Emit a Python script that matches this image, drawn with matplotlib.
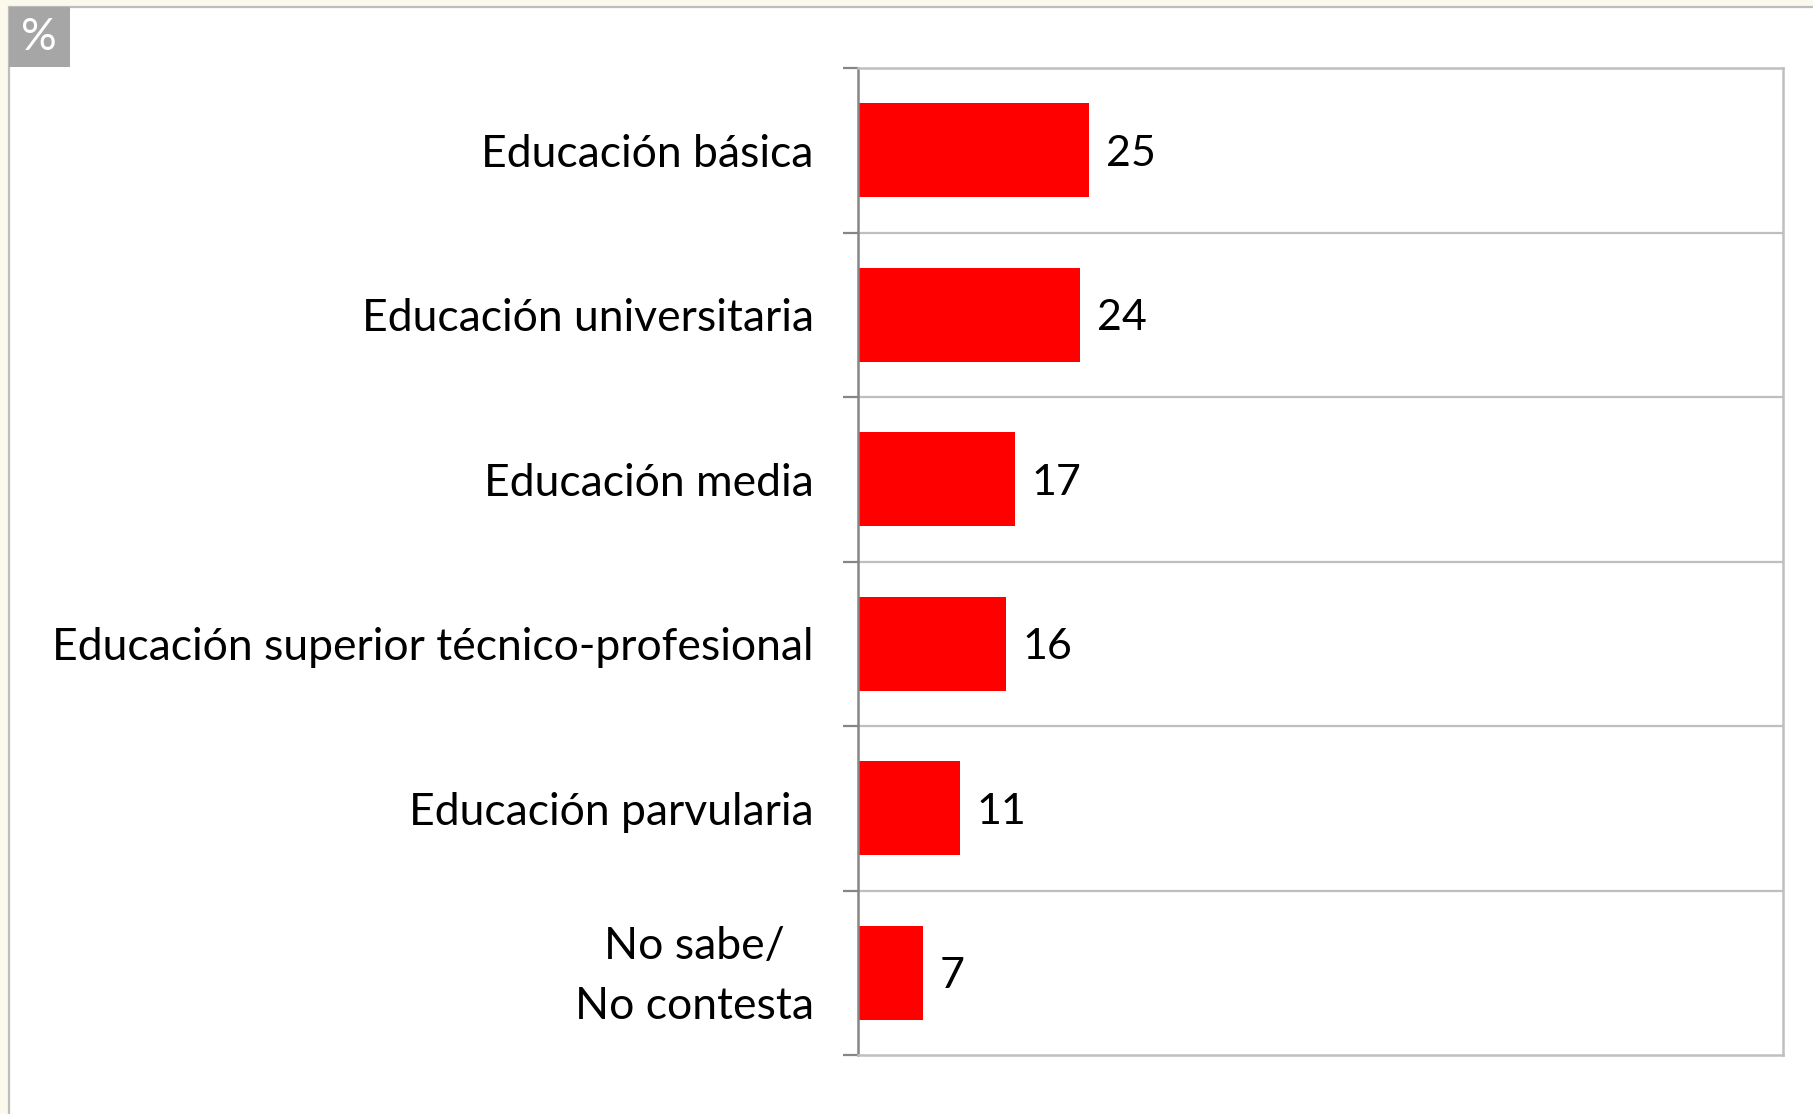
import matplotlib.pyplot as plt
import matplotlib.transforms as mtransforms
from matplotlib.patches import Rectangle

categories = [
    "Educación básica",
    "Educación universitaria",
    "Educación media",
    "Educación superior técnico-profesional",
    "Educación parvularia",
    "No sabe/\nNo contesta",
]
values = [25, 24, 17, 16, 11, 7]

W, H = 1813, 1114
plt.rcParams["font.family"] = ["Lato", "DejaVu Sans"]
fig = plt.figure(figsize=(W / 100, H / 100), dpi=100)
fig.patch.set_facecolor("#FBF8EC")

# white panel with grey border on the left and top
fig.patches.append(Rectangle((9 / W, -0.01), 1, 1.01 - 7 / H, transform=fig.transFigure,
                             facecolor="white", edgecolor="#BDBDBD", lw=1.6, zorder=-2))
# grey "%" box
fig.patches.append(Rectangle((9 / W, 1 - 67 / H), 61 / W, 60 / H, transform=fig.transFigure,
                             facecolor="#A6A6A6", edgecolor="none", zorder=-1))
fig.text(39 / W, 1 - 38 / H, "%", color="white", fontsize=32,
         ha="center", va="center")

ax = fig.add_axes([858 / W, 1 - 1055 / H, 925 / W, 987 / H])
ax.set_zorder(3)
ax.set_facecolor("white")

n = len(categories)
ypos = list(range(n))
ax.barh(ypos, values, height=0.57, color="#FF0000", zorder=2)
ax.set_xlim(0, 100)
ax.set_ylim(n - 0.5, -0.5)

for y, v in zip(ypos, values):
    ax.text(v + 1.8, y + 0.02, str(v), va="center", ha="left", fontsize=31, color="black")

# separators between categories
for b in range(1, n):
    ax.axhline(b - 0.5, color="#BFBFBF", lw=1.6, zorder=1)

ax.set_yticks([b - 0.5 for b in range(n + 1)])
ax.set_yticklabels([])
ax.set_yticks(ypos, minor=True)
ax.set_yticklabels(categories, minor=True, fontsize=32, color="black", linespacing=1.57)
ax.tick_params(axis="y", which="major", length=11, width=1.6, color="#868686")
ax.tick_params(axis="y", which="minor", length=0, pad=32)
shift_up = mtransforms.ScaledTranslation(0, 7 / 72, fig.dpi_scale_trans)
for lab in ax.get_yticklabels(minor=True):
    lab.set_ha("right")
    lab.set_multialignment("center")
    if "\n" in lab.get_text():
        lab.set_transform(lab.get_transform() + shift_up)
ax.set_xticks([])

ax.spines["left"].set_color("#868686")
ax.spines["left"].set_linewidth(1.8)
for s in ["top", "right", "bottom"]:
    ax.spines[s].set_color("#BFBFBF")
    ax.spines[s].set_linewidth(1.8)

fig.savefig("out.png", dpi=100, facecolor=fig.get_facecolor())
